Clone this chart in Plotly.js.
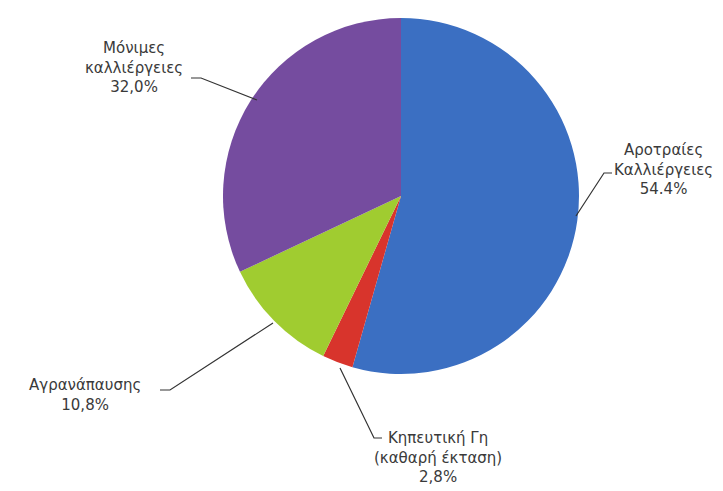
<!DOCTYPE html>
<html>
<head>
<meta charset="utf-8">
<script src="https://cdn.plot.ly/plotly-3.0.1.min.js"></script>
<style>html,body{margin:0;padding:0;background:#fff;}#chart{width:723px;height:491px;}</style>
</head>
<body>
<div id="chart"></div>
<script>
// Data
const categories = ["Αροτραίες Καλλιέργειες", "Κηπευτική Γη (καθαρή έκταση)", "Αγρανάπαυσης", "Μόνιμες καλλιέργειες"];
const values = [54.4, 2.8, 10.8, 32.0];
const valueLabels = ["54.4%", "2,8%", "10,8%", "32,0%"];
const labelLines = [
  ["Αροτραίες", "Καλλιέργειες"],
  ["Κηπευτική Γη", "(καθαρή έκταση)"],
  ["Αγρανάπαυσης"],
  ["Μόνιμες", "καλλιέργειες"]
];
const colors = ["#3b6fc2", "#d8342c", "#a0cc30", "#754c9f"];

const W = 723, H = 491;
const px = (x) => x / W;
const py = (y) => 1 - y / H;

// label placement (pixels): text center and leader path
const labelPos = [
  {x: 663, y: 169, path: [[612,173],[604,173],[576,216]]},
  {x: 438, y: 457, path: [[382,438],[374,438],[340,368]]},
  {x: 85,  y: 395, path: [[160,390],[170,390],[273,323]]},
  {x: 134, y: 67,  path: [[191,78],[201,78],[257,100]]}
];

const annotations = categories.map((c, i) => ({
  xref: 'paper', yref: 'paper',
  x: px(labelPos[i].x), y: py(labelPos[i].y),
  xanchor: 'center', yanchor: 'middle',
  text: labelLines[i].concat([valueLabels[i]]).join('<br>'),
  showarrow: false,
  align: 'center',
  font: {family: 'DejaVu Sans', size: 15, color: '#3a3a3a'}
}));

const shapes = labelPos.map(l => ({
  type: 'path', xref: 'paper', yref: 'paper',
  path: l.path.map((p, k) => (k ? 'L' : 'M') + px(p[0]) + ',' + py(p[1])).join(' '),
  line: {color: '#333333', width: 1.2}
}));

const cx = 401, cy = 196, r = 178;
const trace = {
  type: 'pie',
  labels: categories,
  values: values,
  sort: false,
  direction: 'clockwise',
  rotation: 0,
  textinfo: 'none',
  hoverinfo: 'none',
  marker: {colors: colors, line: {width: 0}},
  domain: {x: [px(cx - r), px(cx + r)], y: [py(cy + r), py(cy - r)]}
};

Plotly.newPlot('chart', [trace], {
  width: W, height: H,
  margin: {l: 0, r: 0, t: 0, b: 0},
  paper_bgcolor: '#ffffff',
  showlegend: false,
  annotations: annotations,
  shapes: shapes
}, {displayModeBar: false, staticPlot: true});
</script>
</body>
</html>
